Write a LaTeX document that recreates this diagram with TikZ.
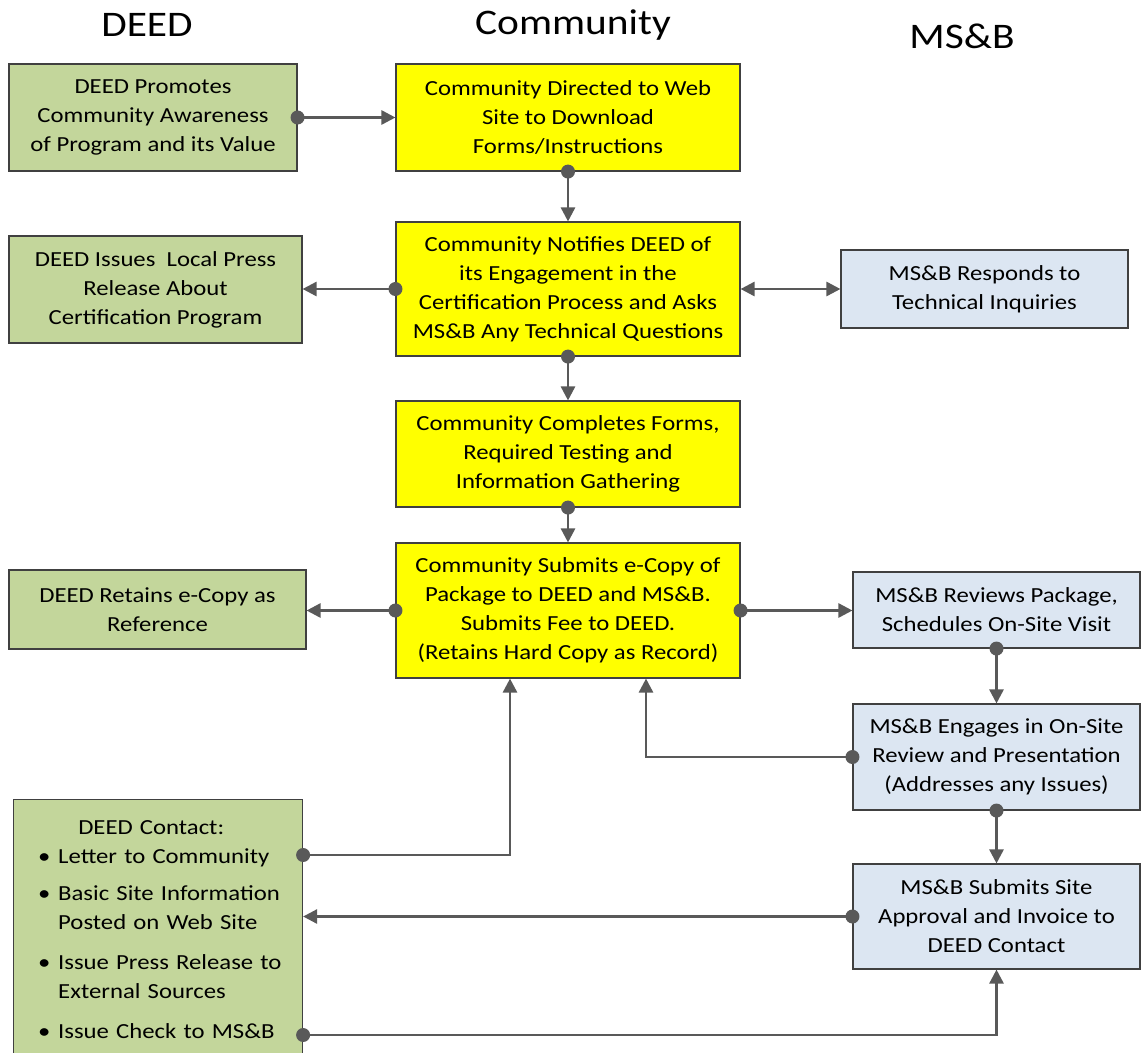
\documentclass[tikz,border=0pt]{standalone}
\usepackage{fontspec}
\setmainfont{Carlito}[FakeStretch=1.15]
\usetikzlibrary{arrows.meta}
\definecolor{gfill}{HTML}{C3D69B}
\definecolor{yfill}{HTML}{FFFF00}
\definecolor{bfill}{HTML}{DCE6F2}
\definecolor{edgec}{HTML}{404040}
\definecolor{connc}{HTML}{595959}
\tikzset{
  box/.style={draw=edgec, line width=1.1pt, rectangle, align=center, inner sep=0pt,
    font=\fontsize{21.5}{29}\selectfont, text=black},
  gbox/.style={box, fill=gfill},
  ybox/.style={box, fill=yfill},
  bbox/.style={box, fill=bfill},
  ttl/.style={font=\fontsize{36}{44}\selectfont, inner sep=0pt},
  conn/.style={draw=connc, line width=2.6pt, -{Triangle[length=14pt,width=14pt]}},
  conn2/.style={draw=connc, line width=2.6pt, {Triangle[length=14pt,width=14pt]}-{Triangle[length=14pt,width=14pt]}},
  dotc/.style={fill=connc}
}
\newcommand{\blt}{\makebox[21pt][l]{\hspace{1pt}\textbullet}}
\newcommand{\ind}{\hspace*{21pt}}
\begin{document}
\begin{tikzpicture}[x=1pt,y=-1pt]
\useasboundingbox (0,0) rectangle (1147,1052);
% titles
\node[ttl] (tdeed) at (147,25) {DEED};
\node[ttl] (tcomm) at (573,25) {Community};
\node[ttl] (tmsb) at (962,36) {MS\&B};
% boxes
\node[gbox, minimum width=288pt, minimum height=107pt] (b1) at (153,117.5)
  {DEED Promotes\\Community Awareness\\of Program and its Value};
\node[ybox, minimum width=344pt, minimum height=107pt] (b2) at (568,117.5)
  {Community Directed to Web\\Site to Download\\Forms/Instructions};
\node[ybox, minimum width=344pt, minimum height=134pt] (b3) at (568,289)
  {Community Notifies DEED of\\its Engagement in the\\Certification Process and Asks\\MS\&B Any Technical Questions};
\node[gbox, minimum width=293pt, minimum height=107pt] (b4) at (155.5,289.5)
  {DEED Issues\ \ Local Press\\Release About\\Certification Program};
\node[bbox, minimum width=287pt, minimum height=78pt] (b5) at (984.5,289)
  {MS\&B Responds to\\Technical Inquiries};
\node[ybox, minimum width=344pt, minimum height=106pt] (b6) at (568,454)
  {Community Completes Forms,\\Required Testing and\\Information Gathering};
\node[ybox, minimum width=344pt, minimum height=135pt] (b7) at (568,610.5)
  {Community Submits e-Copy of\\Package to DEED and MS\&B.\\Submits Fee to DEED.\\(Retains Hard Copy as Record)};
\node[gbox, minimum width=297pt, minimum height=79pt] (b8) at (157.5,609.5)
  {DEED Retains e-Copy as\\Reference};
\node[bbox, minimum width=287pt, minimum height=76pt] (b9) at (996.5,610)
  {MS\&B Reviews Package,\\Schedules On-Site Visit};
\node[bbox, minimum width=287pt, minimum height=106pt] (b10) at (996.5,757)
  {MS\&B Engages in On-Site\\Review and Presentation\\(Addresses any Issues)};
\node[bbox, minimum width=287pt, minimum height=105pt] (b11) at (996.5,916.5)
  {MS\&B Submits Site\\Approval and Invoice to\\DEED Contact};
\node[gbox, minimum width=289pt, minimum height=262pt, anchor=north west] (b12) at (13,799) {};
\node[anchor=north west, inner sep=0pt, text width=262pt, align=left,
      font=\fontsize{21.5}{29}\selectfont] (b12t) at (37,820)
  {\hspace*{-24pt}\makebox[276pt][c]{DEED Contact:}\\
   \blt Letter to Community\\[8pt]
   \blt Basic Site Information\\
   \ind Posted on Web Site\\[11pt]
   \blt Issue Press Release to\\
   \ind External Sources\\[11pt]
   \blt Issue Check to MS\&B};
% connectors
\draw[conn] (b1.east) -- (b2.west);
\draw[conn] (b2.south) -- (b3.north);
\draw[conn] (b3.west) -- (b3.west -| b4.east);
\draw[conn2] (b3.east) -- (b3.east -| b5.west);
\draw[conn] (b3.south) -- (b6.north);
\draw[conn] (b6.south) -- (b7.north);
\draw[conn] (b7.west) -- (b7.west -| b8.east);
\draw[conn] (b7.east) -- (b7.east -| b9.west);
\draw[conn] (b9.south) -- (b10.north);
\draw[conn] (b10.west) -| ([xshift=78pt]b7.south);
\draw[conn] (b10.south) -- (b11.north);
\draw[conn] (b11.west) -- (b11.west -| b12.east);
\draw[conn] ([yshift=-56pt]b12.north east) -| ([xshift=-58pt]b7.south);
\draw[conn] ([yshift=-236pt]b12.north east) -| (b11.south);
% start dots
\foreach \p in {b1.east, b2.south, b3.west, b3.south, b6.south, b7.west, b7.east, b9.south, b10.west, b10.south, b11.west}
  \fill[dotc] (\p) circle[radius=7pt];
\fill[dotc] ([yshift=-56pt]b12.north east) circle[radius=7pt];
\fill[dotc] ([yshift=-236pt]b12.north east) circle[radius=7pt];
\end{tikzpicture}
\end{document}
